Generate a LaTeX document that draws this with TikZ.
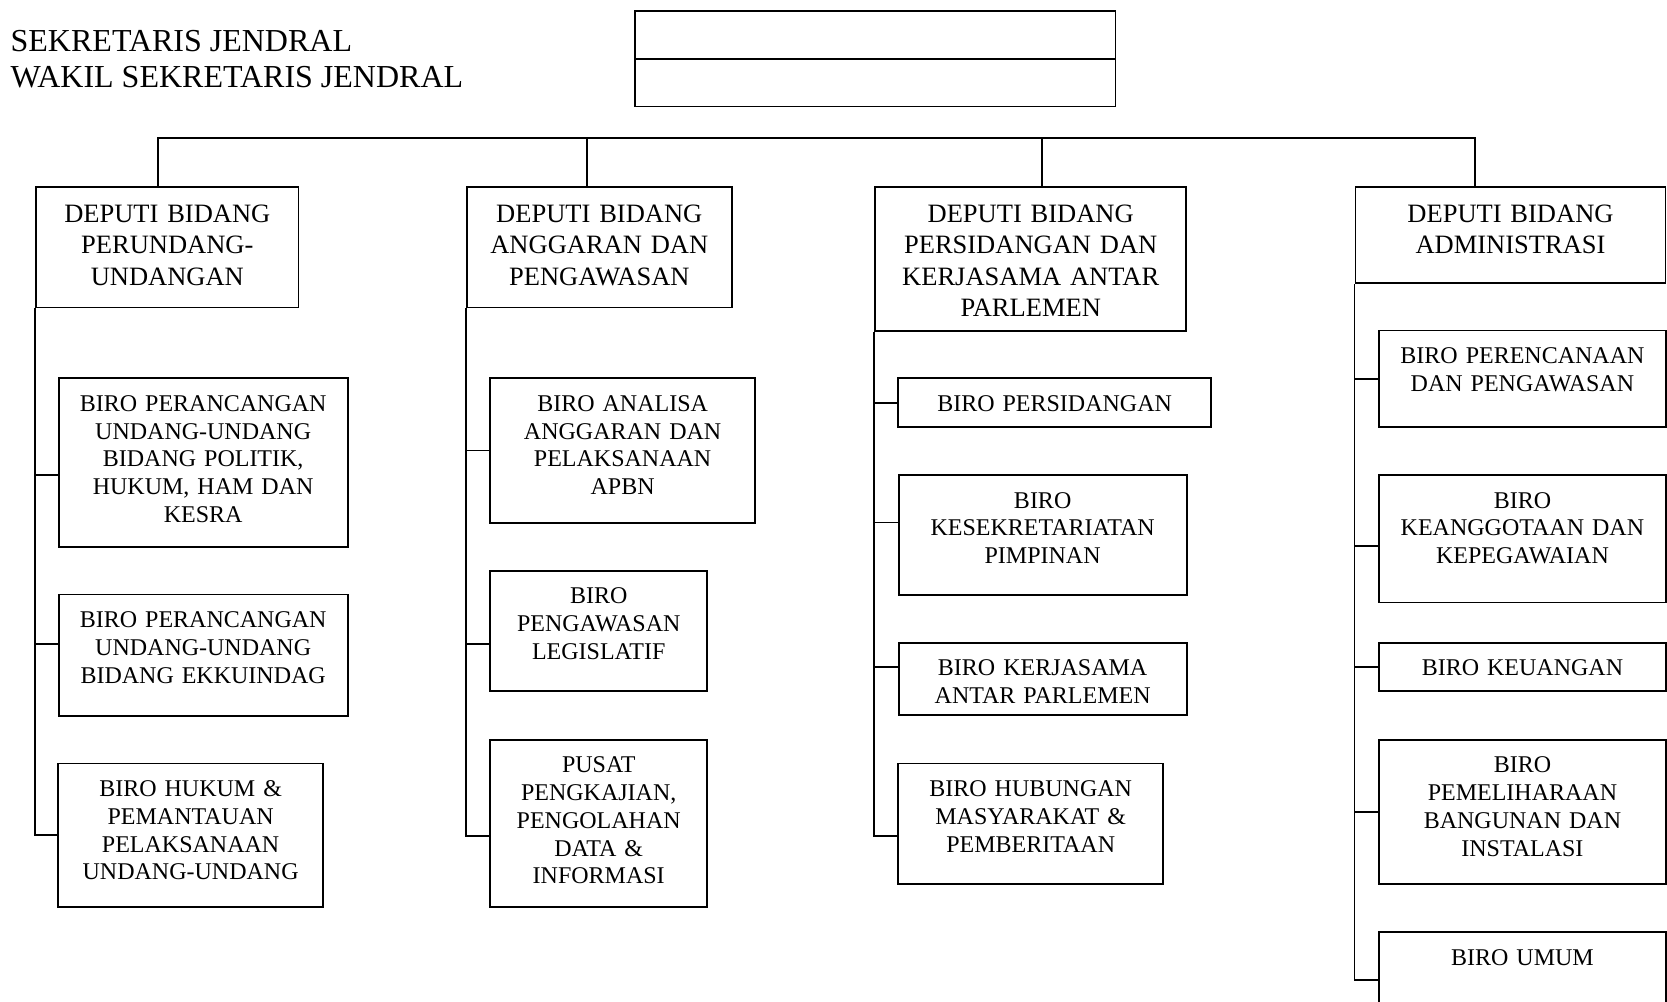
\documentclass[tikz,border=0pt]{standalone}
\usepackage{fontspec}
\setmainfont{Liberation Serif}
\usepackage{tikz}
\tikzset{
sjline/.style={line width=0.9pt},
sjtop/.style={rectangle,draw,sjline,inner sep=0pt,minimum width=8.44cm,minimum height=0.84cm},
sjtitle/.style={align=left,anchor=base west,inner sep=0pt,font=\fontsize{16}{18}\selectfont},
sjdeputi/.style={rectangle,draw,sjline,align=center,anchor=north,inner xsep=0pt,inner ysep=0pt,text height=17.8pt,font=\fontsize{13.25}{15.6}\selectfont},
sjbiro/.style={rectangle,draw,sjline,align=center,anchor=north,inner xsep=0pt,inner ysep=0pt,text height=16.5pt,font=\fontsize{12}{13.9}\selectfont}
}
\begin{document}
\begin{tikzpicture}[
x=1cm,
y=1cm
]
\useasboundingbox (0,0) rectangle (29.29,-17.60);
\clip (0,0) rectangle (29.29,-17.60);
\node[sjtitle] (title) at (0.18,-1.53) {SEKRETARIS JENDRAL\\WAKIL SEKRETARIS JENDRAL};
\node[sjtop] (sekjen) at (15.38,-0.61) {};
\node[sjtop] (wasekjen) at (15.38,-1.45) {};
% deputi
\node[sjdeputi,text width=4.61cm,text depth=1.49cm]
  (perundangan) at (2.94,-3.27) {DEPUTI BIDANG\\PERUNDANG-\\UNDANGAN};
\node[sjdeputi,text width=4.65cm,text depth=1.49cm]
  (anggaran) at (10.53,-3.27) {DEPUTI BIDANG\\ANGGARAN DAN\\PENGAWASAN};
\node[sjdeputi,text width=5.47cm,text depth=1.90cm]
  (persidangan) at (18.11,-3.27) {DEPUTI BIDANG\\PERSIDANGAN DAN\\KERJASAMA ANTAR\\PARLEMEN};
\node[sjdeputi,text width=5.45cm,text depth=1.06cm]
  (administrasi) at (26.54,-3.27) {DEPUTI BIDANG\\ADMINISTRASI};
% biro perundang-undangan
\node[sjbiro,text width=5.08cm,text depth=2.39cm]
  (polhukam) at (3.57,-6.63) {BIRO PERANCANGAN\\UNDANG-UNDANG\\BIDANG POLITIK,\\HUKUM, HAM DAN\\KESRA};
\node[sjbiro,text width=5.08cm,text depth=1.55cm]
  (ekkuindag) at (3.57,-10.43) {BIRO PERANCANGAN\\UNDANG-UNDANG\\BIDANG EKKUINDAG};
\node[sjbiro,text width=4.65cm,text depth=1.94cm]
  (hukum) at (3.35,-13.40) {BIRO HUKUM \&\\PEMANTAUAN\\PELAKSANAAN\\UNDANG-UNDANG};
% biro anggaran
\node[sjbiro,text width=4.65cm,text depth=1.96cm]
  (apbn) at (10.94,-6.63) {BIRO ANALISA\\ANGGARAN DAN\\PELAKSANAAN\\APBN};
\node[sjbiro,text width=3.81cm,text depth=1.53cm]
  (legislatif) at (10.52,-10.01) {BIRO\\PENGAWASAN\\LEGISLATIF};
\node[sjbiro,text width=3.81cm,text depth=2.36cm]
  (pusatdata) at (10.52,-12.98) {PUSAT\\PENGKAJIAN,\\PENGOLAHAN\\DATA \&\\INFORMASI};
% biro persidangan
\node[sjbiro,text width=5.49cm,text depth=0.28cm]
  (sidang) at (18.53,-6.63) {BIRO PERSIDANGAN};
\node[sjbiro,text width=5.06cm,text depth=1.53cm]
  (pimpinan) at (18.32,-8.33) {BIRO\\KESEKRETARIATAN\\PIMPINAN};
\node[sjbiro,text width=5.06cm,text depth=0.69cm]
  (ksap) at (18.32,-11.28) {BIRO KERJASAMA\\ANTAR PARLEMEN};
\node[sjbiro,text width=4.65cm,text depth=1.54cm]
  (humas) at (18.11,-13.40) {BIRO HUBUNGAN\\MASYARAKAT \&\\PEMBERITAAN};
% biro administrasi
\node[sjbiro,text width=5.04cm,text depth=1.12cm]
  (perencanaan) at (26.75,-5.79) {BIRO PERENCANAAN\\DAN PENGAWASAN};
\node[sjbiro,text width=5.04cm,text depth=1.66cm]
  (kepegawaian) at (26.75,-8.33) {BIRO\\KEANGGOTAAN DAN\\KEPEGAWAIAN};
\node[sjbiro,text width=5.04cm,text depth=0.27cm]
  (keuangan) at (26.75,-11.28) {BIRO KEUANGAN};
\node[sjbiro,text width=5.04cm,text depth=1.96cm]
  (pemeliharaan) at (26.75,-12.98) {BIRO\\PEMELIHARAAN\\BANGUNAN DAN\\INSTALASI};
\node[sjbiro,text width=5.04cm,text depth=1.40cm]
  (umum) at (26.75,-16.36) {BIRO UMUM};
% garis komando
\coordinate (bus1) at (2.77,-2.43);
\coordinate (bus2) at (10.31,-2.43);
\coordinate (bus3) at (18.31,-2.43);
\coordinate (bus4) at (25.91,-2.43);
\draw[sjline] (bus1 |- perundangan.north)--(bus1)--(bus4)--(bus4 |- administrasi.north);
\draw[sjline] (bus2)--(bus2 |- anggaran.north);
\draw[sjline] (bus3)--(bus3 |- persidangan.north);
\draw[sjline] ([yshift=-0.22cm]polhukam.west) -| (perundangan.south west);
\draw[sjline] ([yshift=0.19cm]ekkuindag.west) -| (perundangan.south west);
\draw[sjline] (hukum.west) -| (perundangan.south west);
\draw[sjline] (apbn.west) -| (anggaran.south west);
\draw[sjline] ([yshift=-0.23cm]legislatif.west) -| (anggaran.south west);
\draw[sjline] ([yshift=-0.22cm]pusatdata.west) -| (anggaran.south west);
\draw[sjline] (sidang.west) -| (persidangan.south west);
\draw[sjline] ([yshift=0.22cm]pimpinan.west) -| (persidangan.south west);
\draw[sjline] ([yshift=0.21cm]ksap.west) -| (persidangan.south west);
\draw[sjline] ([yshift=-0.21cm]humas.west) -| (persidangan.south west);
\draw[sjline] (perencanaan.west) -| (administrasi.south west);
\draw[sjline] ([yshift=-0.13cm]kepegawaian.west) -| (administrasi.south west);
\draw[sjline] (keuangan.west) -| (administrasi.south west);
\draw[sjline] (pemeliharaan.west) -| (administrasi.south west);
\draw[sjline] ([yshift=0.15cm]umum.west) -| (administrasi.south west);
\end{tikzpicture}
\end{document}
